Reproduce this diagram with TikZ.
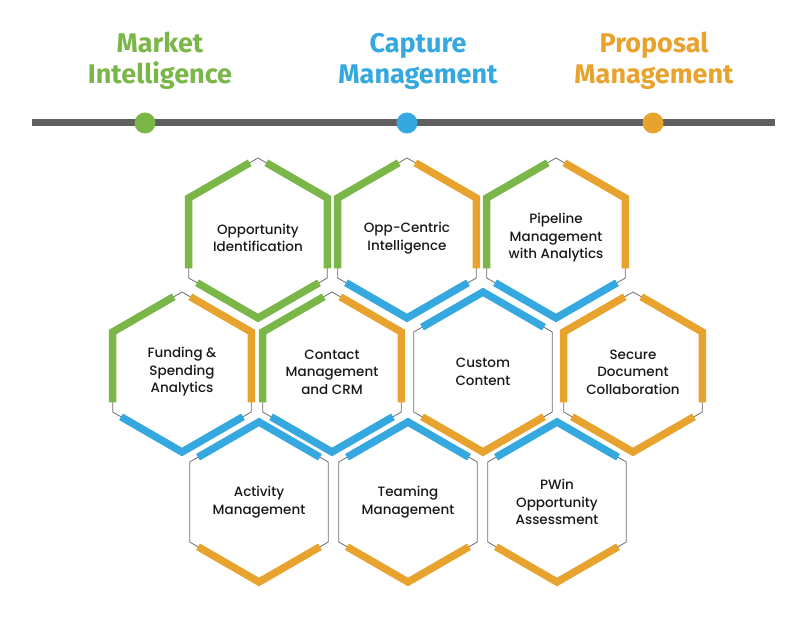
\documentclass[tikz,border=0pt]{standalone}
\usepackage{fontspec}
\setmainfont{Poppins}
\newfontfamily\cellfont{Poppins}[UprightFont=* Medium]
\newfontfamily\titlefont{Fira Sans}
\usetikzlibrary{calc}
\definecolor{mgreen}{HTML}{7AB648}
\definecolor{mblue}{HTML}{35A8E0}
\definecolor{morange}{HTML}{E8A22E}
\definecolor{mline}{HTML}{5F5F5F}
\tikzset{
  title/.style={font=\titlefont\bfseries\fontsize{27}{31}\selectfont, align=center},
  cell/.style={font=\cellfont\fontsize{13.5}{17.5}\selectfont, align=center, text=black!90},
  outline/.style={draw=gray!85!black, line width=0.8pt},
  seg/.style={line width=7.5pt, line join=miter, line cap=butt},
  dot/.style={circle, minimum size=21pt, inner sep=0pt}
}
\newcommand{\hexR}{80}
\newcommand{\hexcell}[8]{% name, x, y, UL, UR, T, B, text
  \node[cell] (#1) at (#2,#3) {#8};
  \draw[outline] ($(#1.center)+(90:\hexR)$) \foreach \a in {150,210,270,330,30} {-- ($(#1.center)+(\a:\hexR)$)} -- cycle;
  \foreach \a/\c in {150/#4,30/#5,90/#6,270/#7} {
    \ifx\c\empty\else
    \pgfmathsetmacro{\aa}{\a+60}\pgfmathsetmacro{\ab}{\a-60}
    \draw[seg, draw=\c]
      ($($(#1.center)+(\aa:\hexR)$)!0.12!($(#1.center)+(\a:\hexR)$)$)
      -- ($(#1.center)+(\a:\hexR)$)
      -- ($($(#1.center)+(\a:\hexR)$)!0.88!($(#1.center)+(\ab:\hexR)$)$);
    \fi
  }
}
\begin{document}
\begin{tikzpicture}[x=1pt,y=1pt]
\useasboundingbox (0,0) rectangle (800,632);
% timeline
\coordinate (l0) at (32,509);
\coordinate (l1) at (775,509);
\draw[mline, line width=7pt] (l0) -- (l1);
\node[dot, fill=mgreen] (d1) at (145,509) {};
\node[dot, fill=mblue] (d2) at (407,509) {};
\node[dot, fill=morange] (d3) at (653,509) {};
\node[title, text=mgreen] (t1) at (160,571) {Market\\Intelligence};
\node[title, text=mblue] (t2) at (418,571) {Capture\\Management};
\node[title, text=morange] (t3) at (654,571) {Proposal\\Management};
% hexagons
\hexcell{h1}{258}{394}{mgreen}{mgreen}{}{mgreen}{Opportunity\\Identification}
\hexcell{h2}{407}{394}{mgreen}{morange}{}{mblue}{Opp-Centric\\Intelligence}
\hexcell{h3}{556}{394}{mgreen}{morange}{}{mblue}{Pipeline\\Management\\with Analytics}
\hexcell{h4}{182}{260}{mgreen}{morange}{}{mblue}{Funding \&\\Spending\\Analytics}
\hexcell{h5}{332}{260}{mgreen}{morange}{}{mblue}{Contact\\Management\\and CRM}
\hexcell{h6}{483}{260}{}{}{mblue}{morange}{Custom\\Content}
\hexcell{h7}{633}{260}{morange}{morange}{}{morange}{Secure\\Document\\Collaboration}
\hexcell{h8}{259}{130}{}{}{mblue}{morange}{Activity\\Management}
\hexcell{h9}{408}{130}{}{}{mblue}{morange}{Teaming\\Management}
\hexcell{h10}{557}{130}{}{}{mblue}{morange}{PWin\\Opportunity\\Assessment}
\end{tikzpicture}
\end{document}
